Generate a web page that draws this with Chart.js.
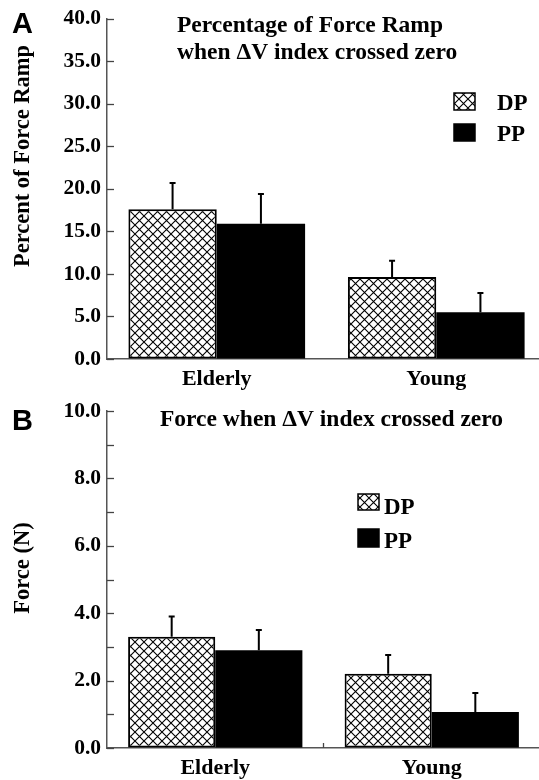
<!DOCTYPE html>
<html><head><meta charset="utf-8">
<script src="https://cdn.jsdelivr.net/npm/chart.js@4/dist/chart.umd.min.js"></script>
<style>
html,body{margin:0;padding:0;background:#fff;overflow:hidden;width:539px;height:780px;position:relative}
#wa{position:absolute;left:0;top:0;width:547px;height:390px}
#wb{position:absolute;left:0;top:390px;width:540px;height:390px}
</style></head><body>
<div id="wa"><canvas id="ca" width="547" height="390"></canvas></div>
<div id="wb"><canvas id="cb" width="540" height="390"></canvas></div>
<script>
// ---- data ----
const categories = ['Elderly', 'Young'];
const seriesNames = ['DP', 'PP'];
const pctDP = [17.6, 9.65];
const pctDPErr = [3.1, 1.9];
const pctPP = [15.9, 5.5];
const pctPPErr = [3.5, 2.25];
const forceDP = [3.3, 2.2];
const forceDPErr = [0.6, 0.56];
const forcePP = [2.9, 1.07];
const forcePPErr = [0.6, 0.56];
const pctTickStep = 5, pctMax = 40;
const forceTickStep = 1, forceMax = 10;
const titleA = ['Percentage of Force Ramp', 'when \u0394V index crossed zero'];
const titleB = ['Force when \u0394V index crossed zero'];
const yTitleA = 'Percent of Force Ramp';
const yTitleB = 'Force (N)';

const SERIF = '"Liberation Serif","Times New Roman",serif';
const SANS = '"Liberation Sans",Arial,sans-serif';

function makeHatch() {
  const c = document.createElement('canvas');
  c.width = 9; c.height = 9;
  const x = c.getContext('2d');
  x.fillStyle = '#fff'; x.fillRect(0, 0, 9, 9);
  x.strokeStyle = '#000'; x.lineWidth = 1.1;
  x.beginPath();
  x.moveTo(-1, -1); x.lineTo(10, 10);
  x.moveTo(10, -1); x.lineTo(-1, 10);
  x.stroke();
  return x.createPattern(c, 'repeat');
}
const hatch = makeHatch();

function build(canvasId, cfg) {
  const errPlugin = {
    id: 'extras',
    afterDatasetsDraw(chart) {
      const ctx = chart.ctx;
      const ys = chart.scales.y;
      const ca = chart.chartArea;
      ctx.save();
      // error bars
      chart.data.datasets.forEach((ds, di) => {
        const meta = chart.getDatasetMeta(di);
        meta.data.forEach((bar, i) => {
          const top = ys.getPixelForValue(ds.data[i]);
          const eTop = ys.getPixelForValue(ds.data[i] + ds.err[i]);
          ctx.strokeStyle = '#000'; ctx.lineWidth = 2;
          ctx.beginPath();
          ctx.moveTo(bar.x, top); ctx.lineTo(bar.x, eTop);
          ctx.moveTo(bar.x - 3, eTop); ctx.lineTo(bar.x + 3, eTop);
          ctx.stroke();
        });
      });
      // inward y ticks
      ctx.strokeStyle = '#444'; ctx.lineWidth = 1.3;
      ys.ticks.forEach(t => {
        const py = Math.round(ys.getPixelForValue(t.value)) + 0.5;
        ctx.beginPath(); ctx.moveTo(ca.left, py); ctx.lineTo(ca.left + 7, py); ctx.stroke();
      });
      if (cfg.midTick) {
        const xs = chart.scales.x;
        const mx = (xs.getPixelForValue(0) + xs.getPixelForValue(1)) / 2;
        ctx.beginPath(); ctx.moveTo(mx, ca.bottom); ctx.lineTo(mx, ca.bottom - 5); ctx.stroke();
      }
      // panel letter
      ctx.fillStyle = '#000';
      ctx.textBaseline = 'alphabetic'; ctx.textAlign = 'left';
      ctx.font = 'bold 29px ' + SANS;
      ctx.fillText(cfg.letter, cfg.letterX, cfg.letterY);
      // title
      ctx.font = 'bold 23.5px ' + SERIF;
      cfg.title.forEach((line, k) => ctx.fillText(line, cfg.titleX, cfg.titleY[k]));
      // y title
      ctx.save();
      ctx.translate(cfg.yTitleX, cfg.yTitleY);
      ctx.rotate(-Math.PI / 2);
      ctx.textAlign = 'center'; ctx.textBaseline = 'middle';
      ctx.font = 'bold 22.5px ' + SERIF;
      ctx.fillText(cfg.yTitle, 0, 0);
      ctx.restore();
      // legend
      chart.data.datasets.forEach((ds, di) => {
        const L = cfg.legend[di];
        ctx.fillStyle = ds.backgroundColor;
        ctx.fillRect(L.bx, L.by, L.bw, L.bh);
        ctx.strokeStyle = '#000'; ctx.lineWidth = 1.5;
        ctx.strokeRect(L.bx, L.by, L.bw, L.bh);
        ctx.fillStyle = '#000';
        ctx.font = 'bold 23px ' + SERIF;
        ctx.textAlign = 'left'; ctx.textBaseline = 'alphabetic';
        ctx.fillText(ds.label, L.tx, L.ty);
      });
      ctx.restore();
    }
  };
  return new Chart(document.getElementById(canvasId), {
    type: 'bar',
    data: {
      labels: categories,
      datasets: [
        { label: seriesNames[0], data: cfg.dp, err: cfg.dpErr, backgroundColor: hatch, borderColor: '#000', borderWidth: 2, borderSkipped: false },
        { label: seriesNames[1], data: cfg.pp, err: cfg.ppErr, backgroundColor: '#000', borderColor: '#000', borderWidth: 0 }
      ]
    },
    options: {
      responsive: false,
      animation: false,
      devicePixelRatio: 1,
      categoryPercentage: 0.805,
      barPercentage: 1,
      layout: { padding: { top: cfg.padTop, right: cfg.padRight, left: 0, bottom: 0 } },
      plugins: { legend: { display: false }, tooltip: { enabled: false }, title: { display: false } },
      scales: {
        x: {
          type: 'category',
          afterFit: s => { s.height = cfg.xH; },
          grid: { display: true, drawOnChartArea: false, drawTicks: false },
          border: { display: true, color: '#555', width: 1.5 },
          ticks: { color: '#000', font: { family: SERIF, weight: 'bold', size: 22 }, padding: 7 }
        },
        y: {
          min: 0, max: cfg.max,
          afterFit: s => { s.width = cfg.yW; },
          grid: { display: true, drawOnChartArea: false, drawTicks: false },
          border: { display: true, color: '#555', width: 1.5 },
          ticks: {
            stepSize: cfg.step, color: '#000', padding: 6,
            font: { family: SERIF, weight: 'bold', size: 21.5 },
            callback: cfg.tickCb
          }
        }
      }
    },
    plugins: [errPlugin]
  });
}

build('ca', {
  dp: pctDP, dpErr: pctDPErr, pp: pctPP, ppErr: pctPPErr,
  max: pctMax, step: pctTickStep, tickCb: v => v.toFixed(1),
  padTop: 14, padRight: 1, xH: 31, yW: 107, midTick: false,
  letter: 'A', letterX: 12, letterY: 32.5,
  title: titleA, titleX: 177, titleY: [31.5, 58.5],
  yTitle: yTitleA, yTitleX: 23, yTitleY: 156,
  legend: [
    { bx: 454, by: 93, bw: 21, bh: 17, tx: 497, ty: 110 },
    { bx: 454, by: 124, bw: 21, bh: 17, tx: 497, ty: 141 }
  ]
});
build('cb', {
  dp: forceDP, dpErr: forceDPErr, pp: forcePP, ppErr: forcePPErr,
  max: forceMax, step: forceTickStep, tickCb: v => (v % 2 === 0 ? v.toFixed(1) : ''),
  padTop: 21, padRight: 0, xH: 32, yW: 107, midTick: true,
  letter: 'B', letterX: 12, letterY: 39.5,
  title: titleB, titleX: 160, titleY: [35.5],
  yTitle: yTitleB, yTitleX: 23, yTitleY: 178,
  legend: [
    { bx: 358, by: 104, bw: 21, bh: 16, tx: 384, ty: 123.5 },
    { bx: 358, by: 139, bw: 21, bh: 18, tx: 384, ty: 158 }
  ]
});
</script>
</body></html>
